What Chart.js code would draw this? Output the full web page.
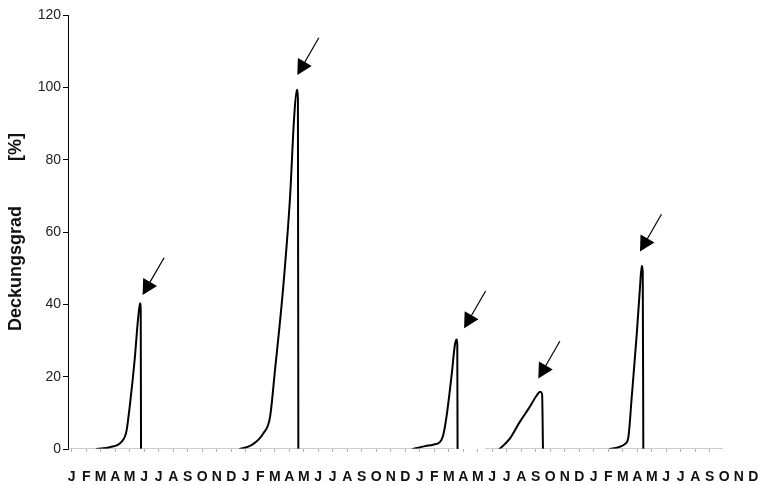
<!DOCTYPE html>
<html>
<head>
<meta charset="utf-8">
<script src="https://cdn.jsdelivr.net/npm/chart.js@4/dist/chart.umd.min.js"></script>
<style>
  html, body { margin: 0; padding: 0; background: #fff; }
  #wrap { width: 762px; height: 485px; }
</style>
</head>
<body>
<div id="wrap"><canvas id="chart" width="762" height="485"></canvas></div>
<script>
// month letters, four years in a row
const months = ['J', 'F', 'M', 'A', 'M', 'J', 'J', 'A', 'S', 'O', 'N', 'D'];
const monthLabels = [].concat(months, months, months, months);

const yTicks = [0, 20, 40, 60, 80, 100, 120];

// x in months from the first January, y in % (Deckungsgrad)
const season1X = [1.72, 2.64, 3.43, 3.77, 4.0, 4.34, 4.57, 4.71, 4.76, 4.78];
const season1Y = [0, 0.5, 2.0, 4.8, 11.7, 24.6, 35.7, 40.3, 38.5, 0];

const season2X = [11.6, 12.41, 13.21, 13.68, 14.02, 14.59, 15.06, 15.33, 15.52, 15.6, 15.63];
const season2Y = [0, 1.1, 4.3, 8.9, 21.8, 44.9, 69.8, 91, 99.3, 97, 0];

const season3X = [23.54, 24.37, 24.92, 25.39, 25.62, 25.86, 26.2, 26.43, 26.55, 26.59, 26.61];
const season3Y = [0, 0.8, 1.2, 1.9, 3.8, 9.3, 20.4, 28.9, 30.3, 29, 0];

const season4X = [29.5, 30.2, 30.9, 31.5, 32.07, 32.3, 32.44, 32.5];
const season4Y = [0, 2.8, 7.5, 11.1, 14.8, 15.8, 15.2, 0];

const season5X = [37.12, 37.7, 38.16, 38.39, 38.62, 38.97, 39.19, 39.31, 39.38, 39.42];
const season5Y = [0, 0.5, 1.4, 3.3, 14.3, 31.9, 44.7, 50.7, 49, 0];

// zero line, broken between spring and summer of the third year
const baseX = [-0.26, 26.45, 27.5, 28.5, 44.92];
const baseY = [0, 0, null, 0, 0];

// arrow tips pointing at the peaks
const arrowTipX = [4.89, 15.56, 27.06, 32.18, 39.19];
const arrowTipY = [42.6, 103.4, 33.4, 19.5, 54.6];

const toPoints = (xs, ys) => xs.map((x, i) => ({ x: x, y: ys[i] }));

const curve = (xs, ys) => ({
    data: toPoints(xs, ys),
    borderColor: '#000',
    borderWidth: 2,
    pointRadius: 0,
    cubicInterpolationMode: 'monotone',
    borderCapStyle: 'round',
    borderJoinStyle: 'round',
    fill: false,
});

// draws the arrows above each peak
const arrowPlugin = {
    id: 'arrows',
    afterDatasetsDraw(chart) {
        const ctx = chart.ctx;
        const xs = chart.scales.x, ys = chart.scales.y;
        const len = 43, head = 15, half = 8;
        const ux = 0.5, uy = -0.866; // direction from tip towards the tail
        ctx.save();
        ctx.strokeStyle = '#000';
        ctx.fillStyle = '#000';
        ctx.lineWidth = 1.2;
        arrowTipX.forEach((ax, i) => {
            const tx = xs.getPixelForValue(ax);
            const ty = ys.getPixelForValue(arrowTipY[i]);
            ctx.beginPath();
            ctx.moveTo(tx + ux * (head - 2), ty + uy * (head - 2));
            ctx.lineTo(tx + ux * len, ty + uy * len);
            ctx.stroke();
            const bx = tx + ux * head, by = ty + uy * head;
            ctx.beginPath();
            ctx.moveTo(tx, ty);
            ctx.lineTo(bx - uy * half, by + ux * half);
            ctx.lineTo(bx + uy * half, by - ux * half);
            ctx.closePath();
            ctx.fill();
        });
        ctx.restore();
    }
};

new Chart(document.getElementById('chart'), {
    type: 'line',
    data: {
        datasets: [
            {
                data: toPoints(baseX, baseY),
                borderColor: '#9a9a9a',
                borderWidth: 1,
                pointRadius: 0,
                spanGaps: false,
            },
            curve(season1X, season1Y),
            curve(season2X, season2Y),
            curve(season3X, season3Y),
            curve(season4X, season4Y),
            curve(season5X, season5Y),
        ],
    },
    options: {
        responsive: false,
        animation: false,
        layout: { padding: { top: 15, right: 5, bottom: 0, left: 0 } },
        plugins: {
            legend: { display: false },
            tooltip: { enabled: false },
        },
        scales: {
            x: {
                type: 'linear',
                min: -0.255,
                max: 47.26,
                border: { display: false },
                grid: {
                    drawOnChartArea: false,
                    drawTicks: true,
                    tickLength: 3,
                    color: (c) => (c.tick && c.tick.value <= 44.9 ? '#b0b0b0' : 'rgba(0,0,0,0)'),
                },
                afterBuildTicks: (scale) => {
                    scale.ticks = monthLabels.map((_, i) => ({ value: i }));
                },
                afterFit: (scale) => {
                    scale.height = 36;
                    scale.paddingLeft = 0;
                    scale.paddingRight = 0;
                },
                ticks: {
                    autoSkip: false,
                    maxRotation: 0,
                    padding: 17,
                    color: '#111',
                    font: { family: 'Liberation Sans', size: 14, weight: 'bold' },
                    callback: (v) => monthLabels[v],
                },
            },
            y: {
                min: 0,
                max: 120,
                border: { display: true, color: '#000', width: 1 },
                grid: {
                    drawOnChartArea: false,
                    drawTicks: true,
                    tickLength: 5,
                    color: '#000',
                },
                afterBuildTicks: (scale) => {
                    scale.ticks = yTicks.map((v) => ({ value: v }));
                },
                afterFit: (scale) => { scale.width = 68; },
                ticks: {
                    padding: 2,
                    color: '#222',
                    font: { family: 'Liberation Sans', size: 14 },
                },
                title: {
                    display: true,
                    text: 'Deckungsgrad         [%]',
                    color: '#111',
                    padding: { top: 5, bottom: 0 },
                    font: { family: 'Liberation Sans', size: 18, weight: 'bold' },
                },
            },
        },
    },
    plugins: [arrowPlugin],
});
</script>
</body>
</html>
